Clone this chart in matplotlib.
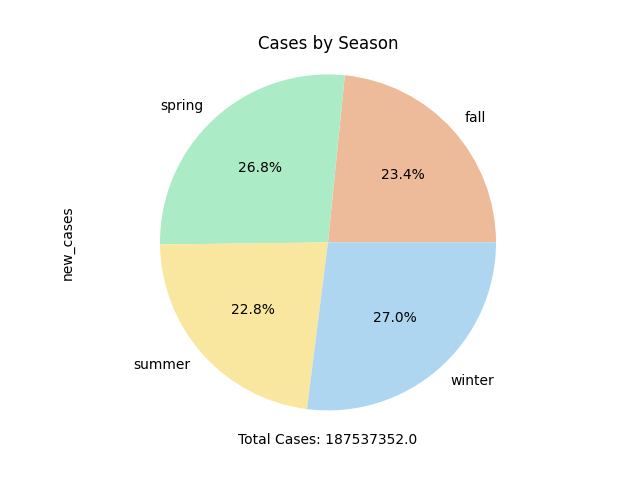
import pandas as pd
import matplotlib
matplotlib.use("Agg")
import matplotlib.pyplot as plt

seasons = ["fall", "spring", "summer", "winter"]
new_cases = [43883740.0, 50260010.0, 42758516.0, 50635086.0]
colors = ["#EDBB99", "#ABEBC6", "#F9E79F", "#AED6F1"]

series = pd.Series(new_cases, index=seasons, name="new_cases")
total = series.sum()

fig, ax = plt.subplots(figsize=(6.4, 4.8), dpi=100)
series.plot.pie(ax=ax, autopct="%1.1f%%", colors=colors)
# older-style equal axis: keep the box, stretch the x limits
ax.set_aspect("equal", adjustable="datalim")
ax.set_xlim(-1.1, 1.1)
ax.set_ylim(-1.1, 1.1)
ax.set_title("Cases by Season")
ax.set_ylabel("new_cases")
ax.set_xlabel(f"Total Cases: {total}")

fig.savefig("out.png")
